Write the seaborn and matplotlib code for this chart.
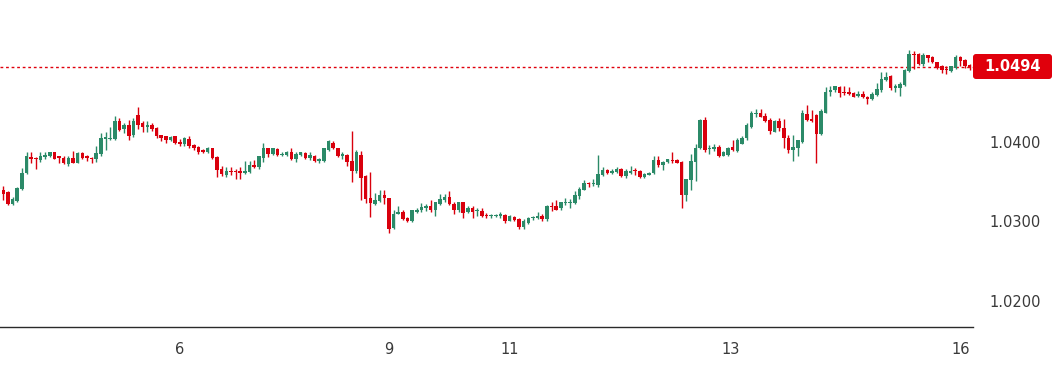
import numpy as np
import pandas as pd
import seaborn as sns
import matplotlib
matplotlib.use("Agg")
import matplotlib.pyplot as plt
from matplotlib.patches import FancyBboxPatch
from matplotlib.transforms import IdentityTransform

# ---------------- data ----------------
opens = [1.0335, 1.0340, 1.0337, 1.0322, 1.0326, 1.0341, 1.0361, 1.0381, 1.0380, 1.0377,
         1.0381, 1.0382, 1.0387, 1.0382, 1.0380, 1.0372, 1.0380, 1.0374, 1.0386, 1.0382,
         1.0380, 1.0379, 1.0385, 1.0404, 1.0404, 1.0404, 1.0426, 1.0416, 1.0421, 1.0409,
         1.0434, 1.0424, 1.0419, 1.0422, 1.0418, 1.0409, 1.0407, 1.0403, 1.0407, 1.0400,
         1.0397, 1.0404, 1.0396, 1.0394, 1.0390, 1.0387, 1.0392, 1.0381, 1.0366, 1.0358,
         1.0363, 1.0363, 1.0363, 1.0361, 1.0362, 1.0371, 1.0368, 1.0380, 1.0392, 1.0385,
         1.0391, 1.0384, 1.0384, 1.0387, 1.0378, 1.0384, 1.0386, 1.0380, 1.0383, 1.0376,
         1.0376, 1.0390, 1.0399, 1.0392, 1.0382, 1.0384, 1.0376, 1.0363, 1.0384, 1.0357,
         1.0329, 1.0322, 1.0326, 1.0333, 1.0329, 1.0292, 1.0310, 1.0312, 1.0305, 1.0300,
         1.0312, 1.0314, 1.0317, 1.0319, 1.0314, 1.0322, 1.0327, 1.0331, 1.0322, 1.0314,
         1.0324, 1.0312, 1.0317, 1.0313, 1.0313, 1.0308, 1.0307, 1.0307, 1.0307, 1.0308,
         1.0301, 1.0306, 1.0303, 1.0293, 1.0298, 1.0304, 1.0304, 1.0307, 1.0303, 1.0319,
         1.0319, 1.0317, 1.0323, 1.0323, 1.0323, 1.0332, 1.0340, 1.0348, 1.0347, 1.0346,
         1.0359, 1.0365, 1.0361, 1.0362, 1.0366, 1.0357, 1.0361, 1.0364, 1.0364, 1.0356,
         1.0359, 1.0361, 1.0377, 1.0371, 1.0375, 1.0377, 1.0377, 1.0375, 1.0333, 1.0352,
         1.0375, 1.0392, 1.0428, 1.0391, 1.0391, 1.0394, 1.0383, 1.0384, 1.0394, 1.0389,
         1.0398, 1.0405, 1.0419, 1.0435, 1.0437, 1.0433, 1.0428, 1.0413, 1.0426, 1.0418,
         1.0405, 1.0390, 1.0393, 1.0400, 1.0435, 1.0429, 1.0434, 1.0410, 1.0437, 1.0463,
         1.0465, 1.0469, 1.0463, 1.0463, 1.0461, 1.0458, 1.0460, 1.0457, 1.0454, 1.0459,
         1.0465, 1.0478, 1.0483, 1.0468, 1.0468, 1.0472, 1.0489, 1.0511, 1.0511, 1.0498,
         1.0509, 1.0507, 1.0500, 1.0496, 1.0491, 1.0489, 1.0493, 1.0507, 1.0503, 1.0497]

highs = [1.0341, 1.0345, 1.0338, 1.0331, 1.0343, 1.0367, 1.0387, 1.0387, 1.0381, 1.0387,
         1.0387, 1.0388, 1.0388, 1.0382, 1.0382, 1.0382, 1.0389, 1.0387, 1.0388, 1.0384,
         1.0381, 1.0395, 1.0411, 1.0412, 1.0419, 1.0433, 1.0430, 1.0424, 1.0428, 1.0430,
         1.0444, 1.0426, 1.0426, 1.0424, 1.0419, 1.0409, 1.0408, 1.0407, 1.0408, 1.0404,
         1.0406, 1.0408, 1.0398, 1.0395, 1.0391, 1.0394, 1.0393, 1.0382, 1.0370, 1.0368,
         1.0368, 1.0366, 1.0368, 1.0376, 1.0376, 1.0377, 1.0383, 1.0399, 1.0393, 1.0393,
         1.0392, 1.0388, 1.0389, 1.0393, 1.0387, 1.0388, 1.0387, 1.0387, 1.0384, 1.0380,
         1.0393, 1.0403, 1.0401, 1.0393, 1.0387, 1.0385, 1.0414, 1.0390, 1.0389, 1.0358,
         1.0362, 1.0336, 1.0339, 1.0340, 1.0330, 1.0314, 1.0319, 1.0315, 1.0306, 1.0315,
         1.0317, 1.0323, 1.0322, 1.0327, 1.0325, 1.0335, 1.0335, 1.0338, 1.0324, 1.0325,
         1.0325, 1.0319, 1.0319, 1.0317, 1.0317, 1.0311, 1.0309, 1.0309, 1.0312, 1.0309,
         1.0308, 1.0307, 1.0304, 1.0303, 1.0306, 1.0307, 1.0312, 1.0309, 1.0321, 1.0324,
         1.0327, 1.0325, 1.0329, 1.0328, 1.0338, 1.0344, 1.0352, 1.0350, 1.0353, 1.0384,
         1.0368, 1.0366, 1.0366, 1.0368, 1.0367, 1.0366, 1.0370, 1.0367, 1.0365, 1.0361,
         1.0362, 1.0382, 1.0382, 1.0376, 1.0379, 1.0388, 1.0379, 1.0376, 1.0354, 1.0385,
         1.0397, 1.0429, 1.0432, 1.0396, 1.0398, 1.0396, 1.0389, 1.0394, 1.0403, 1.0405,
         1.0407, 1.0424, 1.0439, 1.0441, 1.0442, 1.0437, 1.0430, 1.0428, 1.0430, 1.0429,
         1.0409, 1.0409, 1.0403, 1.0440, 1.0447, 1.0440, 1.0435, 1.0442, 1.0469, 1.0470,
         1.0471, 1.0470, 1.0470, 1.0469, 1.0463, 1.0464, 1.0464, 1.0458, 1.0463, 1.0474,
         1.0488, 1.0488, 1.0484, 1.0473, 1.0476, 1.0492, 1.0516, 1.0514, 1.0512, 1.0512,
         1.0510, 1.0508, 1.0501, 1.0497, 1.0496, 1.0496, 1.0509, 1.0508, 1.0504, 1.0498]

lows = [1.0333, 1.0327, 1.0321, 1.0321, 1.0325, 1.0340, 1.0360, 1.0374, 1.0366, 1.0375,
        1.0379, 1.0381, 1.0378, 1.0374, 1.0372, 1.0370, 1.0373, 1.0373, 1.0379, 1.0376,
        1.0374, 1.0375, 1.0383, 1.0390, 1.0403, 1.0403, 1.0414, 1.0411, 1.0402, 1.0406,
        1.0416, 1.0412, 1.0412, 1.0414, 1.0405, 1.0401, 1.0399, 1.0401, 1.0398, 1.0395,
        1.0395, 1.0392, 1.0390, 1.0385, 1.0386, 1.0386, 1.0379, 1.0356, 1.0357, 1.0356,
        1.0358, 1.0353, 1.0354, 1.0360, 1.0361, 1.0367, 1.0366, 1.0375, 1.0381, 1.0384,
        1.0382, 1.0382, 1.0382, 1.0377, 1.0375, 1.0382, 1.0379, 1.0377, 1.0375, 1.0374,
        1.0375, 1.0389, 1.0391, 1.0381, 1.0378, 1.0370, 1.0350, 1.0361, 1.0327, 1.0323,
        1.0306, 1.0321, 1.0325, 1.0322, 1.0286, 1.0291, 1.0309, 1.0302, 1.0299, 1.0299,
        1.0311, 1.0312, 1.0313, 1.0312, 1.0307, 1.0321, 1.0325, 1.0321, 1.0309, 1.0312,
        1.0305, 1.0311, 1.0305, 1.0307, 1.0306, 1.0305, 1.0305, 1.0306, 1.0305, 1.0298,
        1.0300, 1.0301, 1.0291, 1.0291, 1.0297, 1.0302, 1.0303, 1.0301, 1.0300, 1.0313,
        1.0314, 1.0315, 1.0321, 1.0317, 1.0322, 1.0328, 1.0339, 1.0344, 1.0345, 1.0343,
        1.0357, 1.0360, 1.0360, 1.0361, 1.0356, 1.0355, 1.0360, 1.0358, 1.0355, 1.0355,
        1.0358, 1.0360, 1.0369, 1.0365, 1.0374, 1.0374, 1.0373, 1.0317, 1.0326, 1.0339,
        1.0351, 1.0391, 1.0387, 1.0385, 1.0389, 1.0381, 1.0382, 1.0383, 1.0389, 1.0388,
        1.0397, 1.0403, 1.0418, 1.0432, 1.0431, 1.0425, 1.0410, 1.0412, 1.0414, 1.0393,
        1.0386, 1.0376, 1.0382, 1.0399, 1.0426, 1.0425, 1.0374, 1.0409, 1.0436, 1.0458,
        1.0463, 1.0456, 1.0459, 1.0459, 1.0456, 1.0456, 1.0455, 1.0448, 1.0453, 1.0458,
        1.0463, 1.0477, 1.0465, 1.0463, 1.0458, 1.0471, 1.0488, 1.0492, 1.0497, 1.0496,
        1.0501, 1.0499, 1.0492, 1.0487, 1.0486, 1.0488, 1.0492, 1.0496, 1.0493, 1.0491]

closes = [1.0340, 1.0335, 1.0322, 1.0328, 1.0342, 1.0361, 1.0382, 1.0379, 1.0379, 1.0382,
          1.0384, 1.0387, 1.0379, 1.0380, 1.0373, 1.0380, 1.0374, 1.0386, 1.0380, 1.0380,
          1.0379, 1.0386, 1.0405, 1.0406, 1.0405, 1.0426, 1.0415, 1.0421, 1.0408, 1.0426,
          1.0422, 1.0419, 1.0421, 1.0416, 1.0408, 1.0405, 1.0403, 1.0406, 1.0399, 1.0397,
          1.0405, 1.0395, 1.0392, 1.0388, 1.0387, 1.0393, 1.0380, 1.0365, 1.0360, 1.0364,
          1.0362, 1.0362, 1.0361, 1.0364, 1.0371, 1.0368, 1.0382, 1.0392, 1.0385, 1.0392,
          1.0384, 1.0385, 1.0387, 1.0378, 1.0385, 1.0387, 1.0380, 1.0384, 1.0376, 1.0378,
          1.0392, 1.0401, 1.0392, 1.0382, 1.0385, 1.0375, 1.0364, 1.0388, 1.0355, 1.0328,
          1.0323, 1.0327, 1.0333, 1.0329, 1.0291, 1.0310, 1.0312, 1.0303, 1.0300, 1.0314,
          1.0315, 1.0318, 1.0320, 1.0314, 1.0324, 1.0328, 1.0331, 1.0322, 1.0314, 1.0324,
          1.0311, 1.0317, 1.0312, 1.0314, 1.0307, 1.0307, 1.0308, 1.0308, 1.0309, 1.0301,
          1.0307, 1.0302, 1.0293, 1.0300, 1.0305, 1.0306, 1.0307, 1.0303, 1.0320, 1.0318,
          1.0315, 1.0324, 1.0324, 1.0325, 1.0333, 1.0341, 1.0348, 1.0347, 1.0348, 1.0360,
          1.0365, 1.0361, 1.0364, 1.0366, 1.0357, 1.0363, 1.0364, 1.0363, 1.0356, 1.0360,
          1.0361, 1.0377, 1.0371, 1.0375, 1.0378, 1.0376, 1.0374, 1.0333, 1.0353, 1.0376,
          1.0392, 1.0428, 1.0390, 1.0393, 1.0394, 1.0382, 1.0387, 1.0393, 1.0390, 1.0403,
          1.0405, 1.0421, 1.0437, 1.0437, 1.0432, 1.0426, 1.0414, 1.0426, 1.0418, 1.0405,
          1.0390, 1.0394, 1.0402, 1.0436, 1.0428, 1.0426, 1.0410, 1.0439, 1.0463, 1.0465,
          1.0470, 1.0462, 1.0461, 1.0460, 1.0457, 1.0460, 1.0456, 1.0454, 1.0460, 1.0467,
          1.0479, 1.0482, 1.0468, 1.0470, 1.0473, 1.0491, 1.0511, 1.0509, 1.0498, 1.0509,
          1.0506, 1.0500, 1.0493, 1.0491, 1.0490, 1.0495, 1.0507, 1.0502, 1.0496, 1.0494]

last_price = 1.0494
price_ticks = [1.0200, 1.0300, 1.0400]
day_tick_candles = [39, 84, 110, 157.5, 207]
day_tick_labels = ["6", "9", "11", "13", "16"]

# ---------------- styling ----------------
UP = "#2b8a68"
DOWN = "#d9000d"
LABEL_RED = "#e0000c"
TEXT = "#3a3a3a"

sns.set_theme(style="white")
plt.rcParams["font.family"] = ["DejaVu Sans"]

df = pd.DataFrame({"open": opens, "high": highs, "low": lows, "close": closes})
df["idx"] = np.arange(len(df))
df["up"] = df["close"] >= df["open"]
df["color"] = np.where(df["up"], UP, DOWN)
df["bottom"] = df[["open", "close"]].min(axis=1)
df["height"] = (df["close"] - df["open"]).abs().clip(lower=0.00013)

W, H = 1060, 367
fig = plt.figure(figsize=(W / 100, H / 100), dpi=100)
ax = fig.add_axes([0, 40 / H, 973 / W, 327 / H])

# last price dotted line
ax.axhline(last_price, color="#e0000c", lw=1.0, ls=(0, (2, 2)), zorder=1)

# wicks
ax.vlines(df["idx"], df["low"], df["high"], colors=df["color"], lw=1.0, zorder=2)
# bodies
ax.bar(df["idx"], df["height"], bottom=df["bottom"], width=0.76,
       color=df["color"], edgecolor="none", linewidth=0, zorder=3)

ax.set_xlim(0.29, 209.72)
ax.set_ylim(1.01673, 1.05786)

ax.yaxis.tick_right()
ax.set_yticks(price_ticks)
ax.set_yticklabels([f"{p:.4f}" for p in price_ticks])
ax.set_xticks(day_tick_candles)
ax.set_xticklabels(day_tick_labels)
ax.tick_params(axis="y", length=0, pad=11.5, labelsize=10.5, labelcolor=TEXT)
ax.tick_params(axis="x", length=0, pad=11, labelsize=10.5, labelcolor=TEXT)

for s in ["top", "left", "right"]:
    ax.spines[s].set_visible(False)
ax.spines["bottom"].set_color("#2a2a2a")
ax.spines["bottom"].set_linewidth(1.0)
ax.grid(False)

# last price label box (pixel coordinates of the figure)
box = FancyBboxPatch((973, H - 79), 79, 25, boxstyle="round,pad=0,rounding_size=3",
                     transform=IdentityTransform(), facecolor=LABEL_RED,
                     edgecolor="none", zorder=5)
fig.add_artist(box)
fig.text(1013, H - 66.5, f"{last_price:.4f}", transform=IdentityTransform(),
         ha="center", va="center", color="white", fontsize=10.5, fontweight="bold", zorder=6)

fig.savefig("out.png", dpi=100)
